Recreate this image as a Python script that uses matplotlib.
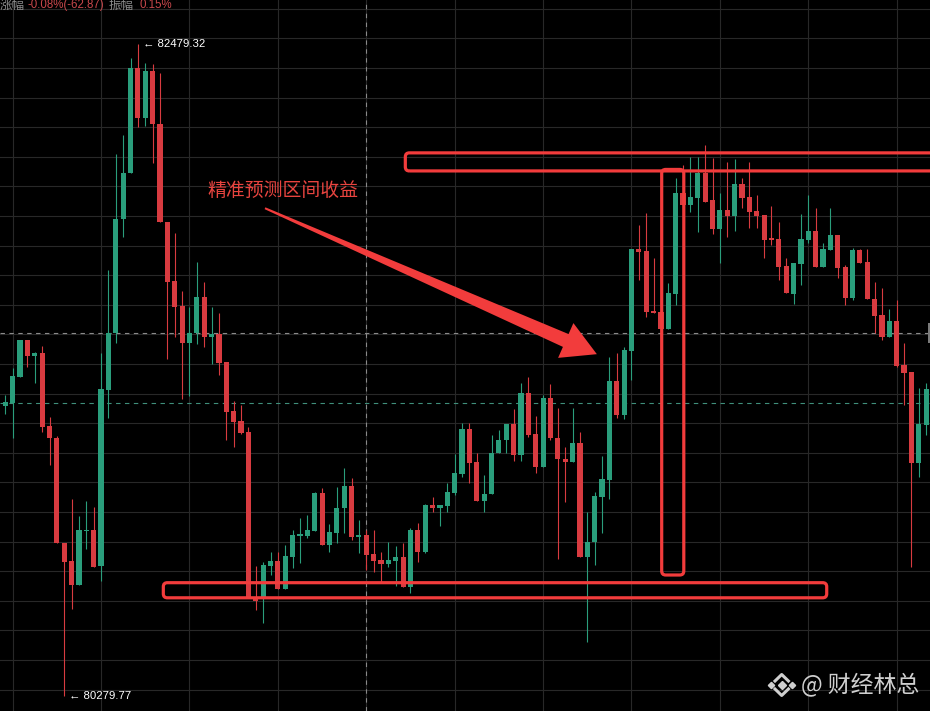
"""
BTC 5m candles with hand drawn prediction boxes (screenshot recreation)
"""

import numpy as np
import matplotlib
matplotlib.use("Agg")
from matplotlib import pyplot as plt
from matplotlib.patches import FancyBboxPatch, Polygon, Rectangle
from matplotlib.transforms import IdentityTransform

# candle data (one candle per 5 min)
opens = [81258, 81268, 81356, 81481, 81426, 81437, 81190, 81149, 80795, 80734,
         80653, 80835, 80839, 80717, 81312, 81504, 81889, 82045, 82399, 82230,
         82389, 82210, 81879, 81680, 81595, 81470, 81504, 81626, 81491, 81501,
         81406, 81241, 81207, 81170, 80612, 80612, 80717, 80734, 80639, 80747,
         80818, 80818, 80835, 80964, 80788, 80829, 80913, 80987, 80815, 80822,
         80758, 80737, 80724, 80734, 80747, 80646, 80839, 80764, 80923, 80913,
         80920, 80964, 81028, 81180, 81068, 80937, 80960, 81099, 81143, 81197,
         81092, 81301, 81163, 81051, 81285, 81149, 81078, 81068, 81133, 80747,
         80798, 80950, 81008, 81342, 81227, 81443, 81788, 81781, 81578, 81575,
         81518, 81636, 81977, 81937, 81960, 82045, 81953, 81855, 81920, 81899,
         82007, 81964, 81916, 81903, 81825, 81822, 81731, 81636, 81737, 81818,
         81849, 81727, 81785, 81835, 81727, 81622, 81785, 81744, 81619, 81565,
         81491, 81545, 81396, 81372, 81065, 81193]
highs = [81295, 81386, 81481, 81481, 81440, 81460, 81220, 81156, 80795, 80943,
         80886, 80937, 80916, 81437, 81717, 82109, 82173, 82433, 82479.32, 82416,
         82413, 82382, 81879, 81842, 81646, 81592, 81744, 81676, 81592, 81572,
         81406, 81274, 81261, 81187, 80717, 80731, 80764, 80764, 80788, 80839,
         80879, 80889, 80967, 80981, 80859, 80984, 81048, 81014, 80872, 80839,
         80839, 80764, 80798, 80785, 80795, 80845, 80862, 80927, 80950, 80920,
         80997, 81095, 81200, 81200, 81099, 81024, 81160, 81176, 81197, 81247,
         81335, 81356, 81224, 81295, 81332, 81251, 81119, 81251, 81170, 80900,
         80967, 81089, 81423, 81437, 81457, 81788, 81869, 81910, 81758, 81589,
         81673, 82028, 82072, 82099, 82099, 82139, 82095, 81977, 82082, 82092,
         82028, 82082, 81970, 81903, 81933, 81879, 81758, 81741, 81906, 81970,
         81926, 81808, 81926, 81835, 81734, 81791, 81788, 81788, 81676, 81656,
         81585, 81616, 81470, 81372, 81318, 81335]
lows = [81231, 81149, 81356, 81389, 81335, 81170, 81058, 80795, 80279.77, 80572,
        80653, 80775, 80714, 80666, 81217, 81470, 81828, 82045, 82200, 82203,
        82078, 81879, 81416, 81491, 81281, 81291, 81467, 81457, 81399, 81362,
        81143, 81119, 81163, 80612, 80568, 80524, 80687, 80639, 80639, 80710,
        80727, 80812, 80835, 80788, 80764, 80795, 80829, 80805, 80761, 80704,
        80697, 80663, 80714, 80650, 80646, 80626, 80731, 80761, 80900, 80852,
        80900, 80957, 81018, 80997, 80937, 80900, 80960, 81099, 81099, 81072,
        81072, 81153, 81031, 81051, 81143, 80741, 80933, 81068, 80747, 80460,
        80720, 80829, 80943, 81217, 81214, 81345, 81683, 81558, 81572, 81514,
        81518, 81599, 81913, 81913, 81845, 81947, 81839, 81741, 81828, 81849,
        81926, 81859, 81859, 81758, 81801, 81683, 81639, 81602, 81666, 81808,
        81727, 81727, 81785, 81690, 81599, 81616, 81741, 81619, 81504, 81481,
        81491, 81389, 81261, 80714, 81018, 81160]
closes = [81271, 81359, 81481, 81426, 81437, 81187, 81149, 80795, 80731, 80653,
          80839, 80839, 80714, 81315, 81504, 81889, 82045, 82399, 82230, 82389,
          82210, 81879, 81676, 81592, 81470, 81504, 81626, 81491, 81501, 81403,
          81237, 81203, 81166, 80612, 80599, 80720, 80734, 80639, 80751, 80822,
          80825, 80839, 80964, 80788, 80832, 80913, 80987, 80815, 80822, 80754,
          80734, 80724, 80737, 80747, 80646, 80839, 80764, 80923, 80913, 80923,
          80967, 81031, 81180, 81065, 80937, 80960, 81099, 81143, 81197, 81092,
          81301, 81160, 81051, 81285, 81149, 81078, 81068, 81133, 80747, 80798,
          80954, 81011, 81342, 81227, 81447, 81788, 81778, 81575, 81572, 81518,
          81639, 81977, 81937, 81964, 82045, 81947, 81855, 81920, 81899, 82007,
          81960, 81913, 81899, 81818, 81818, 81727, 81639, 81741, 81822, 81849,
          81727, 81788, 81835, 81724, 81622, 81785, 81741, 81619, 81562, 81491,
          81545, 81393, 81369, 81065, 81197, 81315]

HIGH_IDX, LOW_IDX = 18, 8
CROSS_IDX, CROSS_PRICE = 49, 81504
LAST_PRICE_LINE = 81268

# hand drawn boxes: (first candle, last candle, low price, high price)
TOP_BOX = (54.3, 127.0, 82052, 82113)
BOTTOM_BOX = (21.45, 111.5, 80610, 80661)
TALL_BOX = (89.1, 92.1, 80687, 82057)
ARROW_TAIL = (35.25, 81926)
ARROW_TIP = (80.3, 81433)
NOTE = "精准预测区间收益"
NOTE_POS = (27.4, 81987)

# header pieces: text, colour, left pixel, is cjk
HEADER = [("涨幅", "#8a8a8a", 0, True), ("-0.08%(-62.87)", "#c9484c", 27, False),
          ("振幅", "#8a8a8a", 109, True), ("0.15%", "#c9484c", 139, False)]
WATERMARK = "@ 财经林总"

GREEN = "#2a9e7c"
RED = "#d83b40"
MARK = "#f23c3c"
CJK = ["Noto Sans CJK SC", "DejaVu Sans"]
LATIN = ["Liberation Sans", "DejaVu Sans"]
W, H = 930, 711

fig = plt.figure(figsize=(W / 100, H / 100), dpi=100, facecolor="black")
ax = fig.add_axes([0, 0, 1, 1], facecolor="black")
ax.set_xlim(-0.72, 125.52)
ax.set_ylim(80227.6, 82629.4)
ax.axis("off")

# grid
for p in range(80300, 82700, 100):
    ax.axhline(p, color="#282828", lw=0.8, zorder=0)
for i in range(1, 126, 12):
    ax.axvline(i, color="#282828", lw=0.8, zorder=0)
ax.axvline(CROSS_IDX, color="#8a8a8a", lw=0.8, ls=(0, (4, 4)), zorder=1)
ax.axhline(CROSS_PRICE, color="#8a8a8a", lw=0.8, ls=(0, (4, 4)), zorder=1)
ax.axhline(LAST_PRICE_LINE, color="#3f8f7b", lw=0.8, ls=(0, (4, 4)), zorder=1)

# candles
o = np.array(opens, dtype=float)
c = np.array(closes, dtype=float)
x = np.arange(len(o))
cols = np.where(c >= o, GREEN, RED)
ax.vlines(x, lows, highs, colors=cols, lw=0.8, zorder=2)
body = np.maximum(np.abs(c - o), 4)
ax.bar(x, body, bottom=np.minimum(o, c), width=0.7, color=cols, lw=0, zorder=3)

# extreme labels
ax.annotate("← 82479.32", (HIGH_IDX, highs[HIGH_IDX]), xytext=(5, 0),
            textcoords="offset pixels", va="center", ha="left", color="white",
            fontsize=8.2, family=LATIN)
ax.annotate("← 80279.77", (LOW_IDX, lows[LOW_IDX]), xytext=(5, 0),
            textcoords="offset pixels", va="center", ha="left", color="white",
            fontsize=8.2, family=LATIN)


def box(b, r=4):
    (x0, y0), (x1, y1) = ax.transData.transform([(b[0], b[2]), (b[1], b[3])])
    fig.add_artist(FancyBboxPatch((x0, y0), x1 - x0, y1 - y0,
                                  boxstyle=f"round,pad=0,rounding_size={r}",
                                  transform=IdentityTransform(), fill=False,
                                  ec=MARK, lw=2.3, zorder=5))


for b in (TOP_BOX, BOTTOM_BOX, TALL_BOX):
    box(b)

# tapered arrow
tail, tip = ax.transData.transform([ARROW_TAIL, ARROW_TIP])
d = (tip - tail) / np.hypot(*(tip - tail))
n = np.array([-d[1], d[0]])
base = tip - d * 34
pts = [tail + n * 1, base + n * 7, base + n * 19, tip,
       base - n * 19, base - n * 7, tail - n * 1]
fig.add_artist(Polygon(pts, closed=True, transform=IdentityTransform(),
                       fc=MARK, ec="none", zorder=5))
ax.text(*NOTE_POS, NOTE, color="#e8443f", fontsize=13.6, family=CJK,
        va="center", ha="left", zorder=6)

# header line, cut by the top edge
for txt, col, px, is_cjk in HEADER:
    fig.text(px / W, 1 - 5 / H, txt, color=col,
             fontsize=9 if is_cjk else 8.3, family=CJK if is_cjk else LATIN,
             va="center", ha="left")

# crosshair price tag stub on the right edge
fig.add_artist(Rectangle((928 / W, 1 - 343 / H), 2 / W, 20 / H,
                         transform=fig.transFigure, fc="#7a7a7a", ec="none"))

# watermark
wm = "#cfcfcf"
cx, cy = 781.7 / W, 1 - 685 / H
fig.add_artist(plt.Line2D([cx], [cy], marker="D", ms=4.5, color=wm, lw=0,
                          transform=fig.transFigure))
for dx in (-10.5, 10.5):
    fig.add_artist(plt.Line2D([cx + dx / W], [cy], marker="D", ms=3.2, color=wm,
                              lw=0, transform=fig.transFigure))
for s in (1, -1):
    fig.add_artist(plt.Line2D([cx - 6.7 / W, cx, cx + 6.7 / W],
                              [cy + s * 4 / H, cy + s * 10.5 / H, cy + s * 4 / H],
                              color=wm, lw=2.2, transform=fig.transFigure))
fig.text(801 / W, cy, WATERMARK, color=wm, fontsize=16.5, family=CJK,
         va="center", ha="left")

fig.savefig("out.png", dpi=100, facecolor="black")
